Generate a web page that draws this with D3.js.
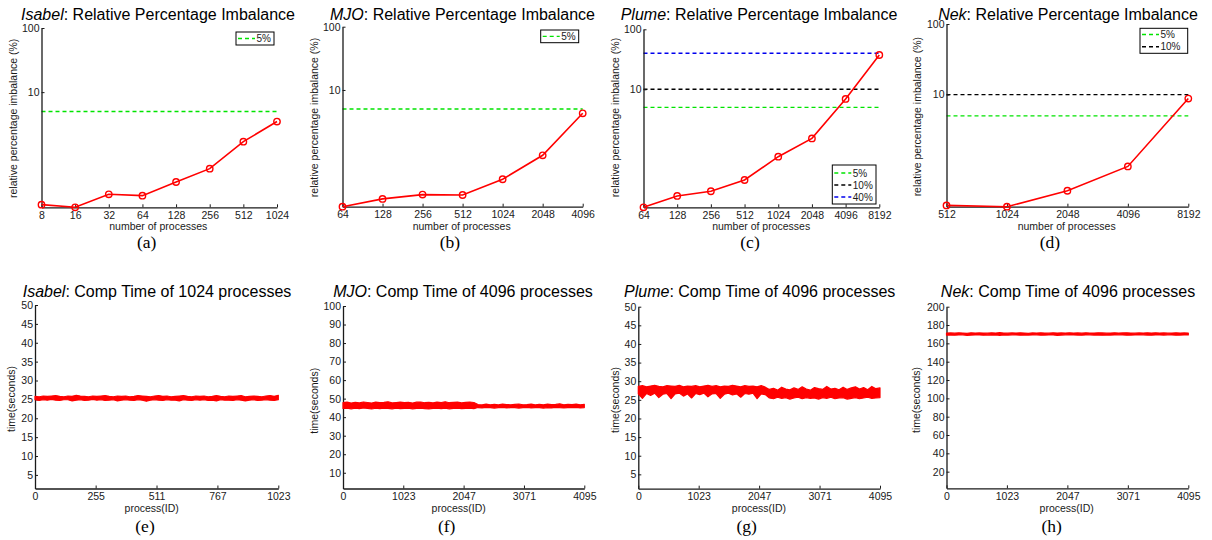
<!DOCTYPE html>
<html><head><meta charset="utf-8">
<script src="https://cdn.jsdelivr.net/npm/d3@7"></script>
<style>
body{margin:0;background:#fff;}
svg{display:block;font-family:"Liberation Sans",Arial,Helvetica,sans-serif;}
</style></head><body>
<svg id="c" width="1212" height="540"></svg>
<script>
// ---------- DATA ----------
const isabelProcs = [8,16,32,64,128,256,512,1024];
const isabelImb   = [0.176,0.160,0.255,0.243,0.397,0.641,1.69,3.48];
const mjoProcs    = [64,128,256,512,1024,2048,4096];
const mjoImb      = [0.143,0.190,0.222,0.219,0.388,0.929,4.28];
const plumeProcs  = [64,128,256,512,1024,2048,4096,8192];
const plumeImb    = [0.108,0.167,0.200,0.308,0.753,1.52,6.9,37.3];
const nekProcs    = [512,1024,2048,4096,8192];
const nekImb      = [0.269,0.258,0.434,0.96,8.78];

const isabelThr = [5];
const mjoThr    = [5];
const plumeThr  = [5,10,40];
const nekThr    = [5,10];
const imbTicks  = [10,100];

// per-process computation time, min/max envelope over bins of process IDs
const isabelLo = [24.9,24.7,24.9,24.8,25.0,24.8,24.7,24.9,24.9,24.6,24.8,24.9,24.7,24.8,25.0,24.8,24.9,24.7,24.8,24.9,24.6,24.8,24.9,24.8,24.7,24.9,24.8,24.5,24.8,24.9,24.8,24.7,24.9,24.8,24.8,24.6,24.9,24.8,24.7,24.9,24.8,24.9,24.7,24.8,24.6,24.9,24.8,24.8,24.7,24.9,24.8,24.6,24.8,24.9,24.7,24.8,24.9,24.8,24.7,24.9];
const isabelHi = [25.8,25.7,25.9,25.8,25.9,26.0,25.8,25.7,25.9,25.8,26.1,25.9,25.8,25.7,25.9,25.8,25.9,26.0,25.8,25.7,25.9,25.8,25.9,25.7,25.8,26.0,25.9,25.8,25.7,25.9,26.0,25.8,25.9,25.7,25.8,25.9,26.0,25.8,25.7,25.9,25.8,25.9,25.7,25.8,26.0,25.8,25.7,25.9,25.8,25.9,26.0,25.7,25.8,25.9,25.8,25.7,25.9,26.0,25.8,26.1];
const mjoLo = [44.7,44.9,44.5,44.8,44.6,45.0,44.7,44.4,44.8,44.6,44.9,44.7,44.5,44.8,44.6,44.7,44.9,44.5,44.7,44.8,44.6,44.4,44.7,44.9,44.6,44.8,44.5,44.7,44.8,44.6,44.7,44.9,44.6,
  45.2,45.0,45.3,45.1,44.9,45.2,45.3,45.0,45.1,45.2,44.9,45.1,45.3,45.0,45.2,45.1,44.9,45.2,45.0,45.3,45.1,45.0,45.2,45.1,45.3,45.0,45.2];
const mjoHi = [47.8,48.1,47.6,48.0,47.7,48.2,47.9,47.6,48.1,47.8,48.0,48.3,47.7,47.9,48.1,47.8,48.0,47.6,48.1,48.2,47.8,48.0,47.7,48.1,47.9,48.3,47.8,48.0,48.1,47.7,48.0,48.2,47.9,
  46.8,46.6,47.0,46.7,46.9,46.6,47.0,46.8,46.7,46.9,47.1,46.7,46.8,47.0,46.6,46.9,46.7,47.0,46.8,46.9,47.2,46.7,46.9,46.8,47.0,46.7,46.9];
const plumeLo = [26.6,25.4,26.7,26.2,26.8,25.6,26.5,26.7,25.3,26.6,26.8,26.0,26.6,25.5,26.7,26.4,26.8,25.8,26.6,26.7,25.4,26.5,26.8,26.3,26.6,25.7,26.7,26.5,26.8,25.3,26.6,26.4,
  25.5,25.3,25.7,25.4,25.6,25.2,25.5,25.7,25.3,25.6,25.4,25.5,25.2,25.6,25.4,25.7,25.3,25.5,25.6,25.2,25.4,25.6,25.3,25.5,25.7,25.4,25.5,25.6];
const plumeHi = [28.6,28.8,28.5,28.7,28.9,28.6,28.5,28.8,28.7,28.6,28.9,28.5,28.7,28.6,28.8,28.5,28.7,28.9,28.6,28.8,28.5,28.7,28.6,28.9,28.7,28.5,28.8,28.6,28.7,28.5,28.8,28.4,
  27.8,28.1,27.6,28.4,27.9,27.7,28.2,27.8,28.5,27.9,27.6,28.3,28.0,27.8,28.6,27.9,28.1,27.7,28.4,27.8,28.2,28.5,27.9,28.3,27.7,28.6,28.0,28.2];
const nekLo = [169.0,169.2,168.9,169.1,169.3,168.8,169.0,169.2,169.1,168.9,169.3,169.0,169.1,168.8,169.2,169.0,169.3,169.1,168.9,169.2,169.0,169.1,169.3,168.9,169.0,169.2,169.1,168.8,169.0,169.3,169.1,169.2,169.0,168.9,169.1,169.3,169.0,169.2,168.9,169.1,169.0,169.2,169.3,169.1,168.9,169.0,169.2,169.1,169.3,169.0,168.9,169.1,169.2,169.0,169.3,169.1,168.9,169.0,169.2,169.1];
const nekHi = [171.2,171.4,171.1,171.5,171.3,171.0,171.6,171.2,171.4,171.3,171.1,171.5,171.2,171.7,171.3,171.1,171.4,171.2,171.5,171.3,171.0,171.4,171.2,171.6,171.3,171.1,171.5,171.2,171.4,171.3,171.6,171.2,171.4,171.1,171.5,171.3,171.2,171.6,171.4,171.1,171.3,171.5,171.2,171.4,171.6,171.3,171.1,171.4,171.2,171.5,171.3,171.6,171.2,171.4,171.1,171.3,171.5,171.2,171.4,171.3];

const isabelIdTicks = [0,255,511,767,1023];
const bigIdTicks    = [0,1023,2047,3071,4095];
const ticks50  = [5,10,15,20,25,30,35,40,45,50];
const ticks100 = [10,20,30,40,50,60,70,80,90,100];
const ticks200 = [20,40,60,80,100,120,140,160,180,200];

// ---------- STYLE / LAYOUT ----------
const thrColor = {5:"#00e400", 10:"#000000", 40:"#0000ee"};
const svg = d3.select("#c");
const INK = "#1a1a1a";

const topPanels = [
  {name:"Isabel", procs:isabelProcs, vals:isabelImb, thr:isabelThr, cap:"(a)",
   box:{l:41.5,r:277,t:28,b:207.3}, title:158, ylab:16.5, ylabY:118.3, xlab:158.3, capX:146.7,
   leg:{x:236,y:32,w:38,h:13,first:38.5,step:12}},
  {name:"MJO", procs:mjoProcs, vals:mjoImb, thr:mjoThr, cap:"(b)",
   box:{l:342.5,r:582.7,t:26.7,b:206.7}, title:462.5, ylab:317.5, ylabY:117.5, xlab:461.7, capX:450,
   leg:{x:540.7,y:30,w:38,h:12.7,first:36.4,step:12}},
  {name:"Plume", procs:plumeProcs, vals:plumeImb, thr:plumeThr, cap:"(c)",
   box:{l:643.5,r:879.3,t:29.3,b:207.3}, title:759, ylab:618.7, ylabY:117.5, xlab:761.2, capX:750,
   leg:{x:832.3,y:165,w:43.7,h:39,first:173,step:12}},
  {name:"Nek", procs:nekProcs, vals:nekImb, thr:nekThr, cap:"(d)",
   box:{l:946.5,r:1188.3,t:24,b:206.7}, title:1068, ylab:921.3, ylabY:116.7, xlab:1066.7, capX:1050,
   leg:{x:1140,y:28.3,w:47.7,h:25,first:34.5,step:12.3}}
];

const botPanels = [
  {name:"Isabel", n:1024, lo:isabelLo, hi:isabelHi, xt:isabelIdTicks, yt:ticks50, ymin:1.4, ymax:50, cap:"(e)",
   box:{l:35,r:278.3,t:305,b:488.5}, title:157, ylab:14.7, ylabY:399, xlab:151.7, capX:145},
  {name:"MJO", n:4096, lo:mjoLo, hi:mjoHi, xt:bigIdTicks, yt:ticks100, ymin:1.5, ymax:100, cap:"(f)",
   box:{l:343,r:584.3,t:306,b:488.5}, title:463, ylab:317.5, ylabY:400.8, xlab:458.7, capX:446.7},
  {name:"Plume", n:4096, lo:plumeLo, hi:plumeHi, xt:bigIdTicks, yt:ticks50, ymin:1.15, ymax:50, cap:"(g)",
   box:{l:638.3,r:880,t:306.7,b:488.7}, title:759.7, ylab:618.7, ylabY:400, xlab:759, capX:746.7},
  {name:"Nek", n:4096, lo:nekLo, hi:nekHi, xt:bigIdTicks, yt:ticks200, ymin:1.85, ymax:200, cap:"(h)",
   box:{l:946.5,r:1188.3,t:306.7,b:488.3}, title:1068, ylab:920.3, ylabY:400, xlab:1066.7, capX:1051.7}
];

function styleAxis(g){
  g.select(".domain").attr("stroke",INK).attr("stroke-width",1.3);
  g.selectAll(".tick line").attr("stroke",INK).attr("stroke-width",1);
  g.selectAll(".tick text").attr("font-size",10.5).attr("fill",INK)
   .attr("font-family",'"Liberation Sans",Arial,sans-serif');
}

function title(x,y,name,rest){
  const t = svg.append("text").attr("x",x).attr("y",y).attr("text-anchor","middle")
    .attr("font-size",16).attr("fill","#000");
  t.append("tspan").attr("font-style","italic").text(name);
  t.append("tspan").text(rest);
}
function ylabel(x,y,txt){
  svg.append("text").attr("transform",`translate(${x},${y}) rotate(-90)`)
    .attr("text-anchor","middle").attr("font-size",10.5).attr("fill",INK).text(txt);
}
function caption(x,y,txt){
  svg.append("text").attr("x",x).attr("y",y).attr("text-anchor","middle")
    .attr("font-family",'"Liberation Serif","Times New Roman",serif')
    .attr("font-size",17.5).attr("fill","#000").text(txt);
}

// ---------- TOP ROW ----------
topPanels.forEach(p=>{
  const B = p.box;
  const x = d3.scaleLog().base(2).domain([p.procs[0], p.procs[p.procs.length-1]]).range([B.l,B.r]);
  const y = d3.scaleLog().domain([d3.min(p.vals),100]).range([B.b,B.t]);
  const g = svg.append("g");

  g.selectAll("line.thr").data(p.thr).enter().append("line")
    .attr("x1",B.l).attr("x2",B.r).attr("y1",d=>y(d)).attr("y2",d=>y(d))
    .attr("stroke",d=>thrColor[d]).attr("stroke-width",1.4).attr("stroke-dasharray","4,3");

  const xa = g.append("g").attr("transform",`translate(0,${B.b})`)
    .call(d3.axisBottom(x).tickValues(p.procs).tickFormat(d3.format("d"))
      .tickSizeInner(-3).tickSizeOuter(0).tickPadding(4));
  styleAxis(xa);
  const ya = g.append("g").attr("transform",`translate(${B.l},0)`)
    .call(d3.axisLeft(y).tickValues(imbTicks).tickFormat(d3.format("d"))
      .tickSizeInner(-3).tickSizeOuter(0).tickPadding(2));
  styleAxis(ya);

  const pts = p.procs.map((v,i)=>[v,p.vals[i]]);
  g.append("path").datum(pts)
    .attr("d", d3.line().x(d=>x(d[0])).y(d=>y(d[1])))
    .attr("fill","none").attr("stroke","#ff0000").attr("stroke-width",1.6);
  g.selectAll("circle").data(pts).enter().append("circle")
    .attr("cx",d=>x(d[0])).attr("cy",d=>y(d[1])).attr("r",3.2)
    .attr("fill","none").attr("stroke","#ff0000").attr("stroke-width",1.4);

  // legend
  const L = p.leg;
  const lg = g.append("g");
  lg.append("rect").attr("x",L.x).attr("y",L.y).attr("width",L.w).attr("height",L.h)
    .attr("fill","#fff").attr("stroke","#000").attr("stroke-width",1);
  p.thr.forEach((t,i)=>{
    const yy = L.first + i*L.step;
    lg.append("line").attr("x1",L.x+2).attr("x2",L.x+19).attr("y1",yy).attr("y2",yy)
      .attr("stroke",thrColor[t]).attr("stroke-width",1.4).attr("stroke-dasharray","4,3");
    lg.append("text").attr("x",L.x+20.5).attr("y",yy).attr("dy","0.35em")
      .attr("font-size",10).attr("fill",INK).text(t+"%");
  });

  title(p.title, 19.5, p.name, ": Relative Percentage Imbalance");
  ylabel(p.ylab, p.ylabY, "relative percentage imbalance (%)");
  svg.append("text").attr("x",p.xlab).attr("y",230).attr("text-anchor","middle")
    .attr("font-size",10.5).attr("fill",INK).text("number of processes");
  caption(p.capX, 247.5, p.cap);
});

// ---------- BOTTOM ROW ----------
botPanels.forEach(p=>{
  const B = p.box;
  const x = d3.scaleLinear().domain([0,p.n-1]).range([B.l,B.r]);
  const y = d3.scaleLinear().domain([p.ymin,p.ymax]).range([B.b,B.t]);
  const g = svg.append("g");
  const m = p.lo.length;
  const ids = d3.range(m).map(i => i*(p.n-1)/(m-1));

  const xa = g.append("g").attr("transform",`translate(0,${B.b})`)
    .call(d3.axisBottom(x).tickValues(p.xt).tickFormat(d3.format("d"))
      .tickSizeInner(-3).tickSizeOuter(0).tickPadding(4));
  styleAxis(xa);
  const ya = g.append("g").attr("transform",`translate(${B.l},0)`)
    .call(d3.axisLeft(y).tickValues(p.yt).tickFormat(d3.format("d"))
      .tickSizeInner(-3).tickSizeOuter(0).tickPadding(2));
  styleAxis(ya);

  g.append("path").datum(d3.range(m))
    .attr("d", d3.area().x(i=>x(ids[i])).y0(i=>y(p.lo[i])).y1(i=>y(p.hi[i])))
    .attr("fill","#ff0000").attr("stroke","#ff0000").attr("stroke-width",1.2)
    .attr("stroke-linejoin","round");

  title(p.title, 296.5, p.name, ": Comp Time of " + p.n + " processes");
  ylabel(p.ylab, p.ylabY, "time(seconds)");
  svg.append("text").attr("x",p.xlab).attr("y",511.5).attr("text-anchor","middle")
    .attr("font-size",10.5).attr("fill",INK).text("process(ID)");
  caption(p.capX, 532, p.cap);
});
</script></body></html>
